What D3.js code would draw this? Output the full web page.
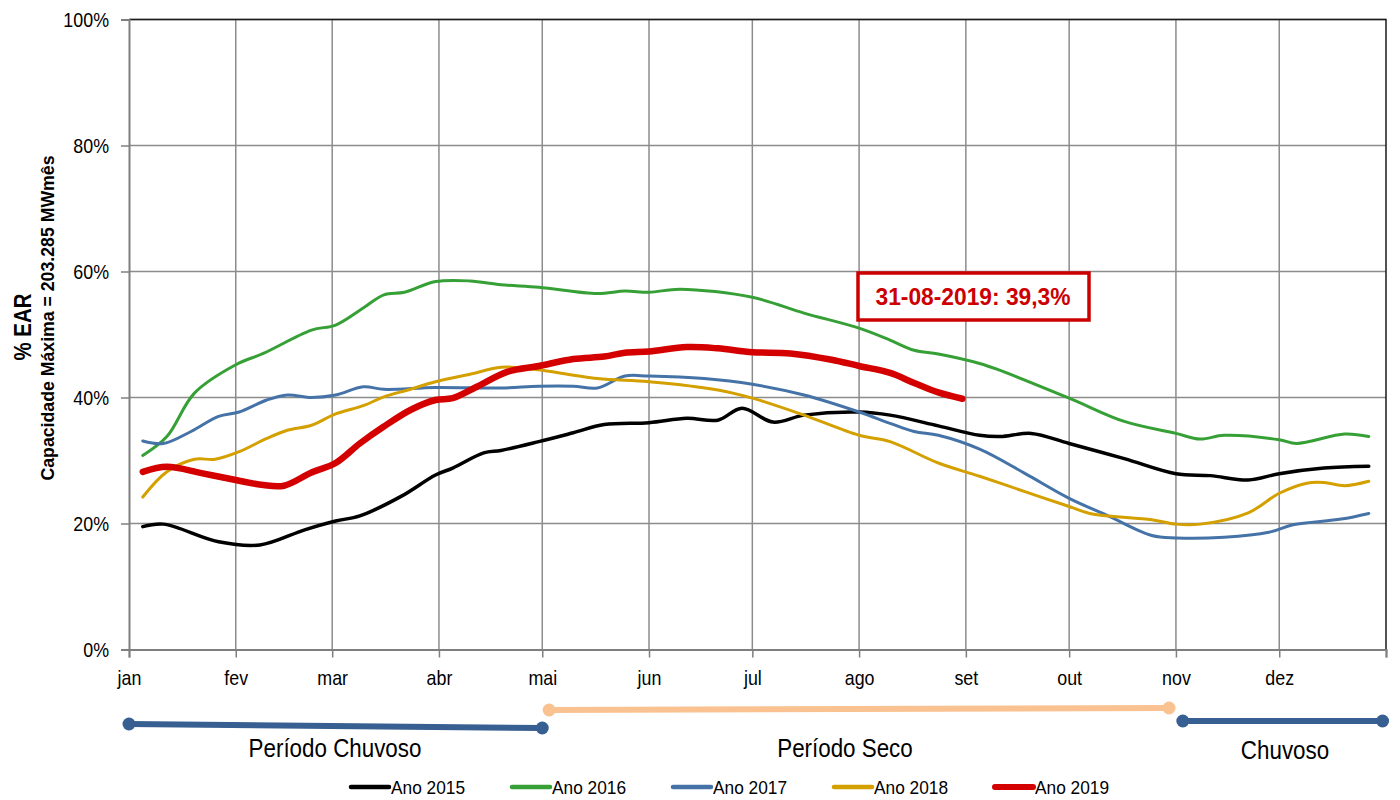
<!DOCTYPE html>
<html>
<head>
<meta charset="utf-8">
<script src="https://cdn.jsdelivr.net/npm/d3@7"></script>
<style>
	body { margin: 0; background: #fff; }
	text { font-family: "Liberation Sans Narrow", "Arial Narrow", "Liberation Sans", Arial, sans-serif; }
</style>
</head>
<body>
<div id="chart"></div>
<script>
// Month labels (pt-BR) and y tick labels
let months = ['jan', 'fev', 'mar', 'abr', 'mai', 'jun', 'jul', 'ago', 'set', 'out', 'nov', 'dez'];
let yTicks = [0, 20, 40, 60, 80, 100];

// Series: [day 'MM-DD', % EAR]
let ano2015 = [
	['01-05', 19.5], ['01-11', 19.9], ['01-27', 17.1], ['02-08', 16.6], ['02-21', 19.0], ['03-02', 20.4],
	['03-09', 21.2], ['03-21', 24.3], ['03-31', 27.7], ['04-05', 28.8], ['04-14', 31.2], ['04-19', 31.6],
	['04-30', 33.0], ['05-10', 34.4], ['05-19', 35.7], ['06-01', 36.0], ['06-12', 36.7], ['06-21', 36.4],
	['06-28', 38.3], ['07-07', 36.1], ['07-16', 37.2], ['08-01', 37.7], ['08-10', 37.2], ['08-24', 35.5],
	['09-05', 34.0], ['09-11', 33.8], ['09-20', 34.3], ['10-01', 32.7], ['10-17', 30.3], ['11-01', 27.9],
	['11-11', 27.6], ['11-22', 26.9], ['12-01', 27.9], ['12-14', 28.8], ['12-27', 29.1]
];
let ano2016 = [
	['01-05', 30.8], ['01-12', 33.8], ['01-20', 40.7], ['02-01', 45.2], ['02-09', 47.0], ['02-23', 50.7],
	['03-02', 51.5], ['03-10', 54.2], ['03-16', 56.3], ['03-22', 56.7], ['03-31', 58.4], ['04-10', 58.5],
	['04-19', 57.9], ['04-30', 57.5], ['05-17', 56.5], ['05-25', 56.9], ['06-01', 56.7], ['06-10', 57.2],
	['07-01', 55.9], ['07-16', 53.4], ['08-01', 51.0], ['08-10', 49.1], ['08-17', 47.5], ['08-24', 46.9],
	['09-05', 45.4], ['09-10', 44.5], ['10-01', 39.9], ['10-17', 36.2], ['11-01', 34.3], ['11-08', 33.4],
	['11-15', 34.0], ['12-01', 33.3], ['12-06', 32.7], ['12-20', 34.2], ['12-27', 33.8]
];
let ano2017 = [
	['01-05', 33.1], ['01-11', 32.7], ['01-19', 34.6], ['01-27', 37.0], ['02-02', 37.7], ['02-10', 39.6],
	['02-16', 40.4], ['02-23', 40.0], ['03-02', 40.4], ['03-10', 41.7], ['03-16', 41.3], ['03-31', 41.6],
	['04-19', 41.5], ['04-30', 41.8], ['05-10', 41.8], ['05-17', 41.5], ['05-25', 43.4], ['06-01', 43.4],
	['06-17', 43.0], ['07-01', 42.1], ['07-16', 40.4], ['08-01', 37.7], ['08-10', 35.9], ['08-17', 34.6],
	['08-24', 34.0], ['09-05', 31.8], ['09-18', 28.0], ['10-01', 24.0], ['10-12', 21.3], ['10-25', 18.1],
	['11-01', 17.7], ['11-15', 17.8], ['11-28', 18.6], ['12-05', 19.8], ['12-19', 20.7], ['12-27', 21.6]
];
let ano2018 = [
	['01-05', 24.2], ['01-12', 28.2], ['01-20', 30.2], ['01-26', 30.2], ['02-02', 31.4], ['02-10', 33.5],
	['02-16', 34.8], ['02-23', 35.6], ['03-02', 37.4], ['03-10', 38.7], ['03-16', 40.1], ['03-23', 41.2],
	['03-31', 42.5], ['04-10', 43.7], ['04-19', 44.8], ['04-25', 44.7], ['04-30', 44.4], ['05-17', 43.0],
	['06-01', 42.5], ['06-21', 41.2], ['07-01', 39.9], ['07-16', 37.2], ['08-01', 34.0], ['08-10', 33.0],
	['08-24', 29.6], ['09-05', 27.5], ['09-19', 24.9], ['10-01', 22.7], ['10-07', 21.6], ['10-25', 20.6],
	['11-01', 19.9], ['11-08', 19.9], ['11-22', 21.7], ['12-01', 24.8], ['12-09', 26.4], ['12-14', 26.5],
	['12-20', 26.0], ['12-27', 26.7]
];
let ano2019 = [
	['01-05', 28.2], ['01-12', 29.0], ['01-22', 28.0], ['02-01', 26.9], ['02-09', 26.1], ['02-15', 26.0],
	['02-23', 28.1], ['03-02', 29.6], ['03-09', 32.7], ['03-16', 35.4], ['03-24', 38.1], ['03-31', 39.6],
	['04-05', 39.9], ['04-12', 41.7], ['04-21', 44.1], ['04-30', 45.0], ['05-10', 46.1], ['05-19', 46.5],
	['05-25', 47.1], ['06-01', 47.3], ['06-12', 48.0], ['06-21', 47.8], ['07-01', 47.2], ['07-12', 47.0],
	['07-24', 46.0], ['08-01', 45.0], ['08-10', 43.9], ['08-17', 42.3], ['08-24', 40.8], ['08-31', 39.8]
];

let seriesNames = ['Ano 2015', 'Ano 2016', 'Ano 2017', 'Ano 2018', 'Ano 2019'];
let seriesData = [ano2015, ano2016, ano2017, ano2018, ano2019];
let seriesColors = ['#000000', '#36a036', '#4573a8', '#d4a000', '#d40000'];
let seriesWidths = [3.5, 3, 3, 3, 6.5];

// Hydrological periods [label, start, end]
let periods = [
	['Período Chuvoso', '01-01', '05-01'],
	['Período Seco', '05-03', '10-30'],
	['Chuvoso', '11-03', '12-31']
];
let periodColors = ['#375f91', '#f9c290', '#375f91'];

let annotation = '31-08-2019: 39,3%';

let W = 1400;
let H = 800;
let parse = d3.timeParse('%Y-%m-%d');
let day = s => parse('2019-' + s);

// No narrow font installed: squeeze the glyphs horizontally instead
function narrow(sel, k) {
	sel.each(function() {
		let w = this.getComputedTextLength();
		d3.select(this)
				.attr('textLength', w * k)
				.attr('lengthAdjust', 'spacingAndGlyphs');
	});
}

let svg = d3.select('#chart')
		.append('svg')
		.attr('width', W)
		.attr('height', H);

let xScale = d3.scaleTime()
		.domain([new Date(2019, 0, 1), new Date(2020, 0, 1)])
		.range([129, 1386]);

let yScale = d3.scaleLinear()
		.domain([0, 100])
		.range([649.5, 19.5]);

let monthTicks = d3.timeMonth.range(new Date(2019, 0, 1), new Date(2020, 0, 2));

// Grid lines
svg.append('g')
		.selectAll('line')
		.data(monthTicks.slice(1, 12))
		.enter()
		.append('line')
		.attr('x1', d => xScale(d))
		.attr('x2', d => xScale(d))
		.attr('y1', yScale(100))
		.attr('y2', yScale(0))
		.style('stroke', '#8c8c8c')
		.style('stroke-width', 1.5);

svg.append('g')
		.selectAll('line')
		.data(yTicks.slice(1))
		.enter()
		.append('line')
		.attr('x1', xScale.range()[0])
		.attr('x2', xScale.range()[1])
		.attr('y1', d => yScale(d))
		.attr('y2', d => yScale(d))
		.style('stroke', '#8c8c8c')
		.style('stroke-width', 1.5);

// Plot border (top and right)
svg.append('path')
		.attr('d', `M${xScale.range()[0]},${yScale(100)}H${xScale.range()[1]}V${yScale(0)}`)
		.style('fill', 'none')
		.style('stroke', '#1a1a1a')
		.style('stroke-width', 1.5);

// Y axis
let yAxis = svg.append('g')
		.attr('transform', `translate(${xScale.range()[0]}, 0)`)
		.call(d3.axisLeft(yScale).tickValues(yTicks).tickSize(8).tickPadding(12).tickFormat(d => d + '%'));
yAxis.select('.domain').style('stroke', '#7f7f7f').style('stroke-width', 2);
yAxis.selectAll('.tick line').style('stroke', '#7f7f7f').style('stroke-width', 1.5);
yAxis.selectAll('.tick text')
		.style('font-size', '21px')
		.style('fill', '#000')
		.call(narrow, 0.85);

// X axis
let xAxis = svg.append('g')
		.attr('transform', `translate(0, ${yScale(0)})`)
		.call(d3.axisBottom(xScale).tickValues(monthTicks).tickSize(8).tickPadding(13)
				.tickFormat((d, i) => i < 12 ? months[i] : ''));
xAxis.select('.domain').style('stroke', '#7f7f7f').style('stroke-width', 2);
xAxis.selectAll('.tick line').style('stroke', '#7f7f7f').style('stroke-width', 1.5);
xAxis.selectAll('.tick text')
		.style('font-size', '21px')
		.style('fill', '#000')
		.call(narrow, 0.85);

// Y axis titles
svg.append('text')
		.attr('transform', 'translate(31, 327) rotate(-90)')
		.attr('text-anchor', 'middle')
		.style('font-size', '24px')
		.style('font-weight', 'bold')
		.text('% EAR')
		.call(narrow, 0.85);

svg.append('text')
		.attr('transform', 'translate(54, 318) rotate(-90)')
		.attr('text-anchor', 'middle')
		.style('font-size', '18px')
		.style('font-weight', 'bold')
		.attr('textLength', 325)
		.attr('lengthAdjust', 'spacingAndGlyphs')
		.text('Capacidade Máxima = 203.285 MWmês');

// Series lines
let line = d3.line()
		.x(d => xScale(day(d[0])))
		.y(d => yScale(d[1]))
		.curve(d3.curveCatmullRom.alpha(0.5));

svg.append('g')
		.selectAll('path')
		.data(seriesData)
		.enter()
		.append('path')
		.attr('d', d => line(d))
		.style('fill', 'none')
		.style('stroke', (d, i) => seriesColors[i])
		.style('stroke-width', (d, i) => seriesWidths[i])
		.style('stroke-linecap', 'round')
		.style('stroke-linejoin', 'round');

// Annotation box for the last 2019 value
let note = svg.append('g');
note.append('rect')
		.attr('x', 858)
		.attr('y', 273)
		.attr('width', 231)
		.attr('height', 47)
		.style('fill', '#fff')
		.style('stroke', '#cc0000')
		.style('stroke-width', 3.5);
note.append('text')
		.attr('x', 973)
		.attr('y', 305)
		.attr('text-anchor', 'middle')
		.style('font-size', '24px')
		.style('font-weight', 'bold')
		.style('fill', '#cc0000')
		.attr('textLength', 195)
		.attr('lengthAdjust', 'spacingAndGlyphs')
		.text(annotation);

// Period bars under the axis
let periodY = [[724, 728], [710, 708], [721, 721]];
let periodTextX = [335, 845, 1285];
let periodTextY = [757, 757, 759];
let pg = svg.append('g');
periods.forEach((p, i) => {
	let x1 = xScale(day(p[1]));
	let x2 = xScale(day(p[2]));
	pg.append('line')
			.attr('x1', x1)
			.attr('x2', x2)
			.attr('y1', periodY[i][0])
			.attr('y2', periodY[i][1])
			.style('stroke', periodColors[i])
			.style('stroke-width', 6);
	pg.append('circle').attr('cx', x1).attr('cy', periodY[i][0]).attr('r', 6.5).style('fill', periodColors[i]);
	pg.append('circle').attr('cx', x2).attr('cy', periodY[i][1]).attr('r', 6.5).style('fill', periodColors[i]);
	pg.append('text')
			.attr('x', periodTextX[i])
			.attr('y', periodTextY[i])
			.attr('text-anchor', 'middle')
			.style('font-size', '26px')
			.text(p[0])
			.call(narrow, 0.86);
});

// Legend
let legend = svg.append('g')
		.selectAll('g')
		.data(seriesNames)
		.enter()
		.append('g')
		.attr('transform', (d, i) => `translate(${351 + i * 161}, 787)`);
legend.append('line')
		.attr('x1', 0)
		.attr('x2', 38)
		.style('stroke', (d, i) => seriesColors[i])
		.style('stroke-width', (d, i) => i === 4 ? 6 : 4.5)
		.style('stroke-linecap', 'round');
legend.append('text')
		.attr('x', 40)
		.attr('y', 7)
		.style('font-size', '19px')
		.text(d => d)
		.call(narrow, 0.91);
</script>
</body>
</html>
